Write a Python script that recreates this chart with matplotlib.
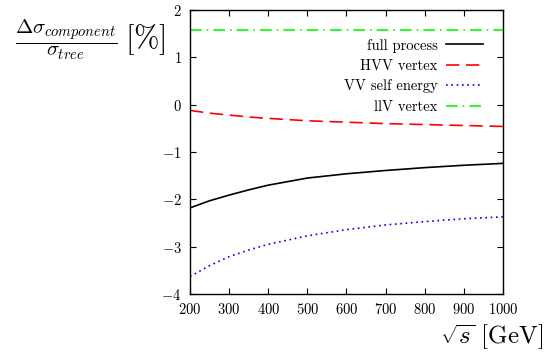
import matplotlib
matplotlib.use("Agg")
import matplotlib.pyplot as plt

# values (percent)
sqrt_s = [200, 250, 300, 350, 400, 500, 600, 700, 800, 900, 1000]
full_process = [-2.18, -2.03, -1.91, -1.80, -1.70, -1.55, -1.46, -1.39, -1.33, -1.28, -1.24]
hvv_vertex = [-0.12, -0.18, -0.22, -0.26, -0.29, -0.34, -0.37, -0.40, -0.42, -0.44, -0.46]
vv_self_energy = [-3.63, -3.40, -3.21, -3.07, -2.95, -2.77, -2.64, -2.54, -2.47, -2.41, -2.37]
llv_vertex = [1.58] * len(sqrt_s)

plt.rcParams['font.family'] = 'serif'
plt.rcParams['font.serif'] = ['cmr10']
plt.rcParams['mathtext.fontset'] = 'cm'
plt.rcParams['axes.formatter.use_mathtext'] = True

fig = plt.figure(figsize=(5.46, 3.56), dpi=100)
ax = fig.add_axes([0.348, 0.174, 0.573, 0.798])

ax.plot(sqrt_s, full_process, color='black', lw=1.2, label='full process')
ax.plot(sqrt_s, hvv_vertex, color='red', lw=1.2, dashes=(8, 4), label='HVV vertex')
ax.plot(sqrt_s, vv_self_energy, color='blue', lw=1.2, dashes=(1, 2.2), label='VV self energy')
ax.plot(sqrt_s, llv_vertex, color='#00ff00', lw=1.2, dashes=(7, 3, 1, 3), label='llV vertex')

ax.set_xlim(200, 1000)
ax.set_ylim(-4, 2)
ax.set_xticks(range(200, 1001, 100))
ax.set_yticks(range(-4, 3))
ax.tick_params(direction='in', top=True, right=True, labelsize=10.5, length=4, width=0.8, pad=6)
for sp in ax.spines.values():
    sp.set_linewidth(1.0)

leg = ax.legend(loc='upper right', bbox_to_anchor=(0.955, 0.92), frameon=False,
                markerfirst=False, fontsize=10.5, handlelength=2.5, handletextpad=0.6,
                labelspacing=0.45, borderaxespad=0.0)

fig.text(0.027, 0.888, r'$\dfrac{\Delta\sigma_{component}}{\sigma_{tree}}$',
         fontsize=15, ha='left', va='center')
fig.text(0.229, 0.888, r'$[\%]$', fontsize=22, ha='left', va='center')
fig.text(0.995, 0.012, r'$\sqrt{s}\ [\mathrm{GeV}]$', fontsize=18, ha='right', va='bottom')

fig.savefig('out.png', dpi=100)
